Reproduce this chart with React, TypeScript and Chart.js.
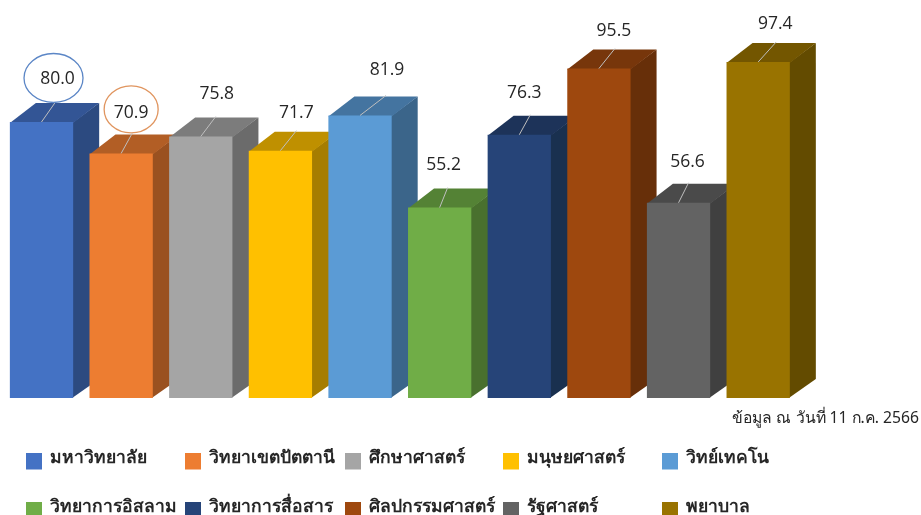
import React, { useEffect, useRef } from "react";
import { Chart, registerables } from "chart.js";

Chart.register(...registerables);

const categories = ["มหาวิทยาลัย", "วิทยาเขตปัตตานี", "ศึกษาศาสตร์", "มนุษยศาสตร์", "วิทย์เทคโน", "วิทยาการอิสลาม", "วิทยาการสื่อสาร", "ศิลปกรรมศาสตร์", "รัฐศาสตร์", "พยาบาล"];
const values = [80.0, 70.9, 75.8, 71.7, 81.9, 55.2, 76.3, 95.5, 56.6, 97.4];
const frontColors = ["#4472C4", "#ED7D31", "#A5A5A5", "#FFC000", "#5B9BD5", "#70AD47", "#264478", "#9E480E", "#636363", "#997300"];
const sideColors = ["#2C4A80", "#9A5120", "#6B6B6B", "#A67D00", "#3B658A", "#49702E", "#19304F", "#672F09", "#404040", "#634B00"];
const topColors = ["#335595", "#B25E25", "#7C7C7C", "#BF9000", "#4474A0", "#548235", "#1D3359", "#77360B", "#4A4A4A", "#735600"];
const labelDx = [16, 10, 16, 16, 27, 4, 5, 15, 9, 17];
const labelDy = [43, 40, 42, 38, 45, 43, 42, 38, 41, 38];
const leaderDx = [14, 11, 15, 16, 26, 8, 11, 16, 10, 18];
const rings = [
  { color: "#5B86C6", dx: -4, dy: -1, rx: 29.5, ry: 24.5 },
  { color: "#E0955F", dx: 0, dy: -4, rx: 27, ry: 23.5 },
];
const legendX = [26, 185, 345, 503, 662];
const legendY = [461, 510];
const note = "ข้อมูล ณ วันที่ 11 ก.ค. 2566";

const DEPTH_X = 26;
const DEPTH_Y = 19;
const THAI = '"Noto Sans", Tahoma, "DejaVu Sans", sans-serif';

const bar3d = {
  id: "bar3d",
  beforeDatasetsDraw(chart: any) {
    const { ctx } = chart;
    const meta = chart.getDatasetMeta(0);
    const base = chart.scales.y.getPixelForValue(0);
    meta.data.forEach((bar: any, i: number) => {
      const l = bar.x - bar.width / 2;
      const r = bar.x + bar.width / 2;
      const t = bar.y;
      ctx.fillStyle = sideColors[i];
      ctx.beginPath();
      ctx.moveTo(r - 1, t + 1);
      ctx.lineTo(r + DEPTH_X, t - DEPTH_Y);
      ctx.lineTo(r + DEPTH_X, base - DEPTH_Y);
      ctx.lineTo(r - 1, base);
      ctx.closePath();
      ctx.fill();
      ctx.fillStyle = topColors[i];
      ctx.beginPath();
      ctx.moveTo(l, t + 1);
      ctx.lineTo(l + DEPTH_X, t - DEPTH_Y);
      ctx.lineTo(r + DEPTH_X, t - DEPTH_Y);
      ctx.lineTo(r, t + 1);
      ctx.closePath();
      ctx.fill();
    });
  },
  afterDatasetsDraw(chart: any) {
    const { ctx } = chart;
    const meta = chart.getDatasetMeta(0);
    ctx.save();
    meta.data.forEach((bar: any, i: number) => {
      ctx.strokeStyle = "#BFBFBF";
      ctx.lineWidth = 1;
      ctx.beginPath();
      ctx.moveTo(bar.x, bar.y);
      ctx.lineTo(bar.x + leaderDx[i], bar.y - 20);
      ctx.stroke();

      const lx = bar.x + labelDx[i];
      const ly = bar.y - labelDy[i];
      ctx.fillStyle = "#262626";
      ctx.font = '17.5px "Open Sans", sans-serif';
      ctx.textAlign = "center";
      ctx.textBaseline = "middle";
      ctx.fillText(values[i].toFixed(1), lx, ly);

      const ring = rings[i];
      if (ring) {
        ctx.strokeStyle = ring.color;
        ctx.lineWidth = 1.3;
        ctx.beginPath();
        ctx.ellipse(lx + ring.dx, ly + ring.dy, ring.rx, ring.ry, 0, 0, Math.PI * 2);
        ctx.stroke();
      }
    });

    // source note
    ctx.fillStyle = "#262626";
    ctx.font = `15.7px ${THAI}`;
    ctx.textAlign = "right";
    ctx.textBaseline = "middle";
    ctx.fillText(note, 919, 419);

    // legend, five columns by two rows
    categories.forEach((name, i) => {
      const x = legendX[i % 5];
      const y = legendY[Math.floor(i / 5)];
      ctx.fillStyle = frontColors[i];
      ctx.fillRect(x, y - 8, 16, 16.5);
      ctx.fillStyle = "#262626";
      ctx.font = `600 17.5px ${THAI}`;
      ctx.textAlign = "left";
      ctx.textBaseline = "middle";
      ctx.fillText(name, x + 24, y - 3);
    });
    ctx.restore();
  },
};

export default function App() {
  const ref = useRef<HTMLCanvasElement | null>(null);
  useEffect(() => {
    if (!ref.current) return;
    const chart = new Chart(ref.current, {
      type: "bar",
      data: {
        labels: categories,
        datasets: [
          {
            data: values,
            backgroundColor: frontColors,
            borderWidth: 0,
            categoryPercentage: 1,
            barPercentage: 0.795,
          },
        ],
      },
      options: {
        responsive: false,
        animation: false,
        layout: { padding: { left: 1.7, right: 123, top: 18.5, bottom: 117 } },
        scales: {
          x: { display: false },
          y: { display: false, min: 0, max: 110 },
        },
        plugins: { legend: { display: false }, tooltip: { enabled: false } },
      },
      plugins: [bar3d],
    } as any);
    return () => chart.destroy();
  }, []);
  return (
    <div style={{ position: "absolute", left: 0, top: 0, width: 921, height: 515, background: "#fff", overflow: "hidden" }}>
      <canvas ref={ref} width={921} height={515} style={{ display: "block" }} />
    </div>
  );
}
